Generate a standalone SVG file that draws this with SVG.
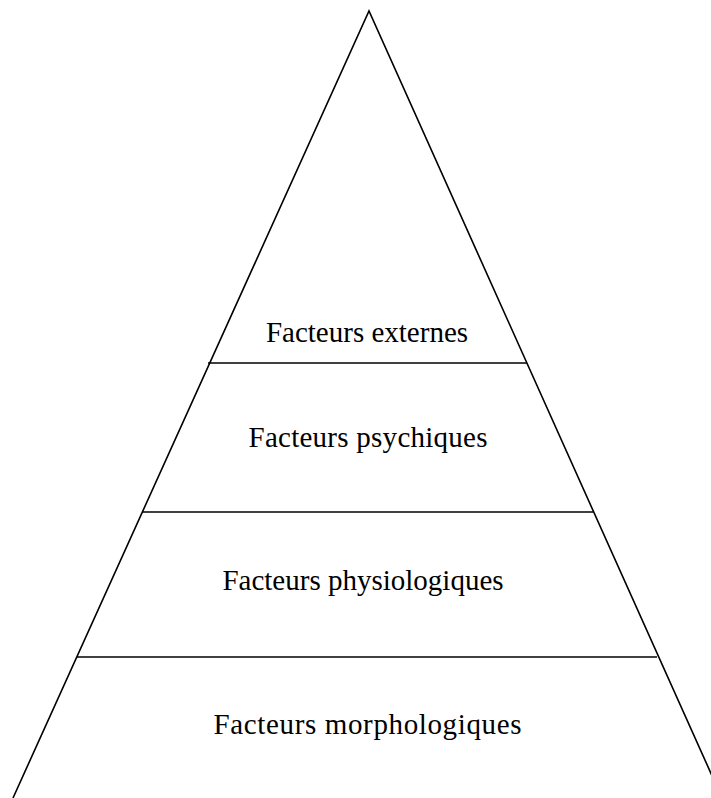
<svg xmlns="http://www.w3.org/2000/svg" width="711" height="798" viewBox="0 0 711 798">
<style>
.l{stroke:#000;stroke-width:1.6;fill:none}
.t{font-family:"Liberation Serif","Times New Roman",serif;font-size:29px;fill:#000;text-anchor:middle}
</style>
<rect width="711" height="798" fill="#fff"/>
<g id="connectors">
<path class="l" d="M13,798 L369,11 L722,798"/>
<line class="l" x1="208" y1="363" x2="527" y2="363"/>
<line class="l" x1="142" y1="512" x2="593" y2="512"/>
<line class="l" x1="77" y1="657" x2="657" y2="657"/>
</g>
<g id="n1"><text class="t" x="367" y="342">Facteurs externes</text></g>
<g id="n2"><text class="t" x="368" y="447" textLength="239" lengthAdjust="spacing">Facteurs psychiques</text></g>
<g id="n3"><text class="t" x="363" y="590">Facteurs physiologiques</text></g>
<g id="n4"><text class="t" x="367.5" y="734" textLength="308" lengthAdjust="spacing">Facteurs morphologiques</text></g>
</svg>
